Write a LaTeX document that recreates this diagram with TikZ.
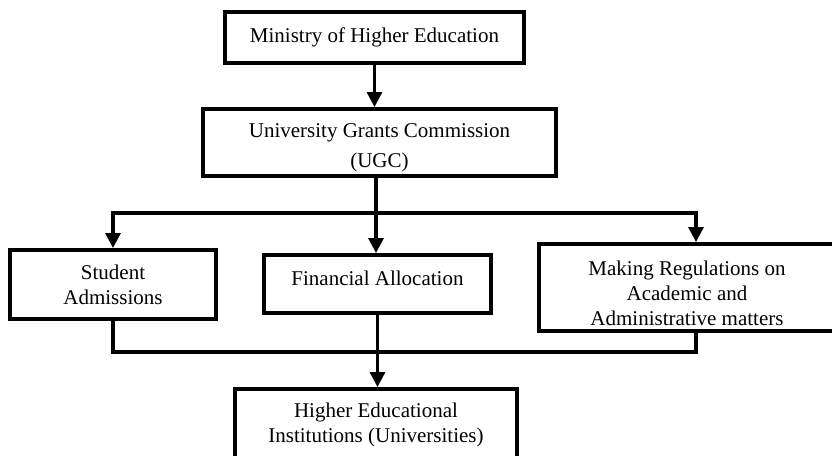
\documentclass[tikz,border=0pt]{standalone}
\usepackage{fontspec}
\setmainfont{Liberation Serif}
\usetikzlibrary{arrows.meta}

\begin{document}
\begin{tikzpicture}[x=1pt,y=-1pt,
    box/.style={draw,line width=4pt,inner sep=0pt,align=center,font=\fontsize{21}{25}\selectfont},
    line/.style={line width=3.2pt},
    arrow/.style={line,-{Triangle[length=15pt,width=15pt]}}]
    \clip (0,0) rectangle (832,455);
    % Boxes
    \node[box,minimum width=299pt,minimum height=51pt] (ministry) at (374.5,37.5) {Ministry of Higher Education};
    \node[box,minimum width=353pt,minimum height=67pt] (ugc) at (379.5,142.5) {\rule{0pt}{25pt}University Grants Commission\\[5pt](UGC)};
    \node[box,minimum width=206pt,minimum height=69pt] (student) at (113,284.5) {Student\\Admissions};
    \node[box,minimum width=227pt,text height=30pt,text depth=28pt,anchor=base] (finance) at (377.5,285) {Financial Allocation};
    \node[box,minimum width=296pt,minimum height=87pt] (regs) at (687,287.5) {\rule{0pt}{26pt}Making Regulations on\\Academic and\\Administrative matters};
    \node[box,minimum width=282pt,inner ysep=14pt,anchor=north] (higher) at (376,387) {Higher Educational\\Institutions (Universities)};
    % Split and join points
    \coordinate (split) at (376,213);
    \coordinate (join) at (376,352);
    % Connectors
    \draw[arrow] (ministry.south) -- (ministry.south |- ugc.north);
    \draw[line] (split |- ugc.south) -- (split);
    \draw[arrow] (split) -- (split |- finance.north);
    \draw[arrow] (split) -| (student.north);
    \draw[arrow] (split) -| ([xshift=9pt]regs.north);
    \draw[line] (student.south) |- (join) -| ([xshift=9pt]regs.south);
    \draw[arrow] (finance.south) -- (finance.south |- higher.north);
  \end{tikzpicture}
\end{document}
